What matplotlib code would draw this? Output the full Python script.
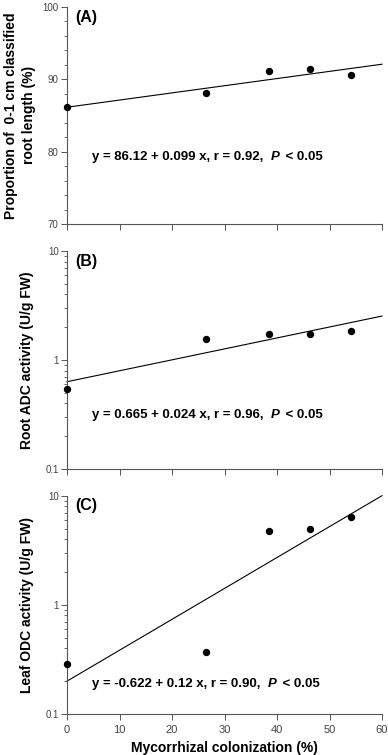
import numpy as np
import matplotlib
matplotlib.use("Agg")
import matplotlib.pyplot as plt
from matplotlib.ticker import MultipleLocator, LogLocator, NullFormatter, FixedLocator

plt.rcParams['font.family'] = ['Liberation Sans', 'DejaVu Sans']

# date
colonizare = [0, 26.5, 38.5, 46.3, 54.0]
proportie_radacini = [86.15, 88.05, 91.07, 91.45, 90.57]
adc_radacina = [0.54, 1.55, 1.72, 1.73, 1.86]
odc_frunza = [0.29, 0.37, 4.7, 5.0, 6.4]

# capetele dreptelor de regresie (x = 0 si x = 60)
linie_x = [0, 60]
linie_a = [86.12, 86.12 + 0.099 * 60]
linie_b = [0.632, 2.53]
linie_c = [0.20, 10.0]

ecuatii = [
    ("y = 86.12 + 0.099 x, r = 0.92,  ", "P", " < 0.05"),
    ("y = 0.665 + 0.024 x, r = 0.96,  ", "P", " < 0.05"),
    ("y = -0.622 + 0.12 x, r = 0.90,  ", "P", " < 0.05"),
]
litere = ["(A)", "(B)", "(C)"]
etichete_y = ["Proportion of  0-1 cm classified\nroot length (%)",
              "Root ADC activity (U/g FW)",
              "Leaf ODC activity (U/g FW)"]

fig = plt.figure(figsize=(3.88, 7.55), dpi=100)
left, width = 67 / 388, 315 / 388
pozitii = [(1 - 224 / 755, 217.3 / 755),
           (1 - 469 / 755, 218 / 755),
           (1 - 714 / 755, 218.3 / 755)]
eq_y = [0.308, 0.248, 0.136]
lit_y = [0.948, 0.951, 0.957]

seturi = [(proportie_radacini, linie_a), (adc_radacina, linie_b), (odc_frunza, linie_c)]
gri = '#444444'

for i, (bottom, h) in enumerate(pozitii):
    ax = fig.add_axes([left, bottom, width, h])
    y_date, y_linie = seturi[i]
    ax.plot(linie_x, y_linie, color='black', linewidth=0.8, clip_on=False)
    ax.plot(colonizare, y_date, 'o', color='black', markersize=4.3, clip_on=False, zorder=3)

    ax.set_xlim(0, 60)
    ax.xaxis.set_major_locator(MultipleLocator(10))
    if i == 0:
        ax.set_ylim(70, 100)
        ax.yaxis.set_major_locator(MultipleLocator(10))
        ax.yaxis.set_minor_locator(MultipleLocator(2))
    else:
        ax.set_yscale('log')
        ax.set_ylim(0.1, 10)
        ax.yaxis.set_major_locator(FixedLocator([0.1, 1, 10]))
        ax.yaxis.set_major_formatter(plt.FuncFormatter(lambda v, p: f"{v:g}"))
        ax.yaxis.set_minor_locator(LogLocator(base=10, subs=np.arange(2, 10)))
        ax.yaxis.set_minor_formatter(NullFormatter())

    for s in ['top', 'right']:
        ax.spines[s].set_visible(False)
    for s in ['left', 'bottom']:
        ax.spines[s].set_color('#555555')
        ax.spines[s].set_linewidth(0.8)
    ax.tick_params(which='major', direction='out', length=4, width=0.7, color='#555555',
                   labelsize=7, labelcolor=gri, pad=2)
    ax.tick_params(which='minor', direction='out', length=2, width=0.6, color='#555555')
    if i < 2:
        ax.tick_params(axis='x', labelbottom=False)
    else:
        ax.tick_params(axis='x', labelsize=8, pad=4)
        ax.set_xlabel("Mycorrhizal colonization (%)", fontsize=10, fontweight='bold', labelpad=4)

    ax.set_ylabel(etichete_y[i], fontsize=10, fontweight='bold', labelpad=8 if i > 0 else 5,
                  linespacing=1.3)

    ax.text(0.025, lit_y[i], litere[i], transform=ax.transAxes, fontsize=11.5,
            fontweight='bold', va='center', ha='left')

    a, p, b = ecuatii[i]
    t1 = ax.text(0.079, eq_y[i], a, transform=ax.transAxes, fontsize=9.5,
                 fontweight='bold', va='center', ha='left')
    t2 = ax.annotate(p, xy=(1, 0), xycoords=t1, fontsize=9.5, fontweight='bold',
                     fontstyle='italic', va='bottom', ha='left')
    ax.annotate(b, xy=(1, 0), xycoords=t2, xytext=(2, 0), textcoords='offset points',
                fontsize=9.5, fontweight='bold', va='bottom', ha='left')

fig.savefig("out.png", dpi=100)
